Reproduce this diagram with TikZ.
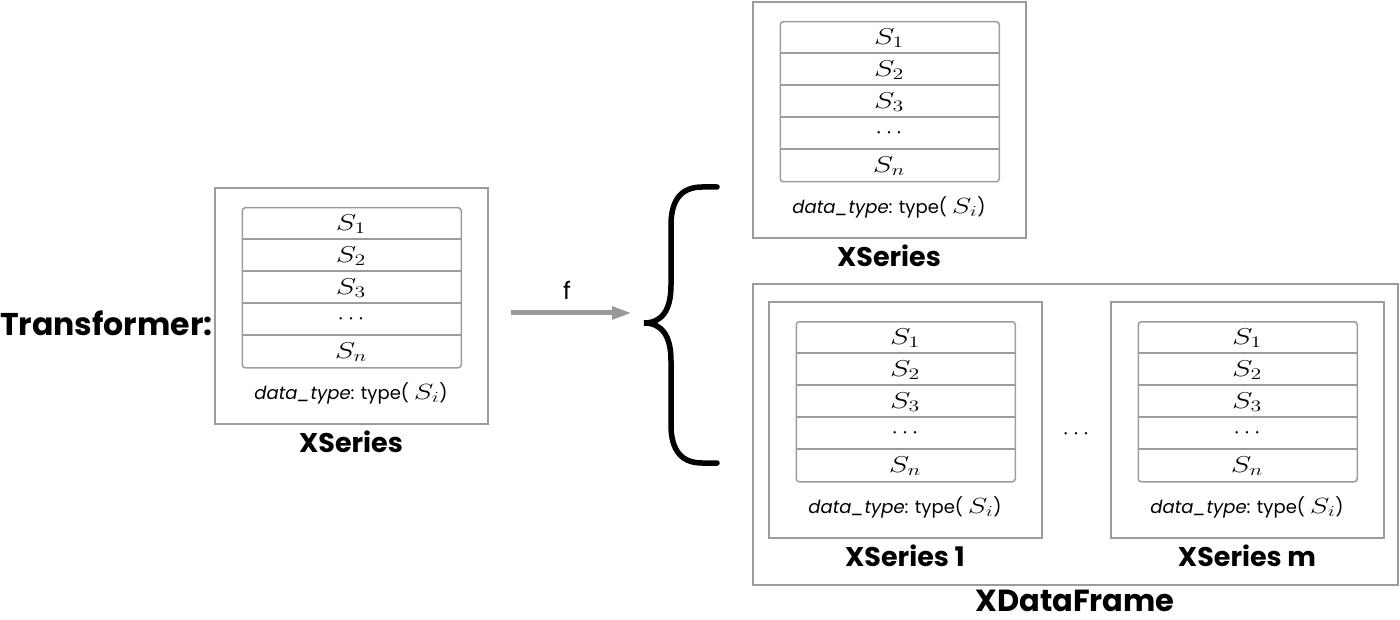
\RequirePackage{fix-cm}
\documentclass[tikz,border=0pt]{standalone}
\usepackage{graphicx}
\usepackage{fontspec}
\setsansfont{Poppins}
\usetikzlibrary{arrows.meta}
\definecolor{boxgray}{HTML}{9C9C9C}
\definecolor{arrgray}{HTML}{999999}
\newcommand{\wm}[1]{\scalebox{1.35}[1]{$#1$}}
\tikzset{
  outerbox/.style={draw=boxgray, line width=1.6pt, anchor=north west,
    minimum width=273pt, minimum height=236pt, inner sep=0pt},
  tablebox/.style={draw=boxgray, line width=1.5pt, rounded corners=3pt, anchor=north west,
    minimum width=219pt, minimum height=160pt, inner sep=0pt},
  rowline/.style={draw=boxgray, line width=1.3pt},
  celltext/.style={font=\fontsize{23}{27}\selectfont, inner sep=0pt},
  typetext/.style={font=\sffamily\fontsize{18}{22}\selectfont, inner sep=0pt},
  paneltitle/.style={font=\sffamily\bfseries\fontsize{27}{31}\selectfont, inner sep=0pt},
  bigtitle/.style={font=\sffamily\bfseries\fontsize{31.5}{36}\selectfont, inner sep=0pt},
  flowarrow/.style={draw=arrgray, line width=5pt, -{Triangle[length=20pt,width=12pt]}},
  bracestyle/.style={draw=black, line width=5.5pt, line cap=round},
}
\newcommand{\xspanel}[4]{%
  \begin{scope}[shift={(#2,#3)}]
    \node[outerbox] (#1) at (0,0) {};
    \node[tablebox] (#1-tab) at (27.5,20) {};
    \foreach \k in {1,2,3,4} {
      \draw[rowline] (27.5,{20+32*\k}) -- (246.5,{20+32*\k});
    }
    \node[celltext] (#1-r1) at (137,{20+16+1}) {\wm{S_1}};
    \node[celltext] (#1-r2) at (137,{52+16+1}) {\wm{S_2}};
    \node[celltext] (#1-r3) at (137,{84+16+1}) {\wm{S_3}};
    \node[celltext] (#1-r4) at (137,{116+16}) {$\cdots$};
    \node[celltext] (#1-r5) at (137,{148+16+1}) {\wm{S_n}};
    \node[typetext] (#1-type) at (137,206) {\textit{data\_type}: type( {\fontsize{22}{26}\selectfont\wm{S_i}})};
    \node[paneltitle] (#1-label) at (137,255) {#4};
  \end{scope}%
}
\begin{document}
\begin{tikzpicture}[x=1pt,y=-1pt]
  \useasboundingbox (0,0) rectangle (1400,620);
  % Transformer label
  \node[bigtitle, anchor=west] (trans) at (0,323) {Transformer:};
  % left XSeries
  \xspanel{left}{214}{187}{XSeries}
  % arrow f
  \coordinate (fstart) at (511,313);
  \coordinate (fend) at (632,313);
  \draw[flowarrow] (fstart) -- (fend);
  \node[font=\sffamily\fontsize{24}{28}\selectfont, inner sep=0pt] (flabel) at (567,290) {f};
  % brace
  \coordinate (btop) at (717,187);
  \coordinate (bbot) at (717,463);
  \coordinate (btip) at (644,323);
  \draw[bracestyle] (btop) -- (702,187)
     .. controls (683,187) and (671,198) .. (671,225) -- (671,285)
     .. controls (671,310) and (662,323) .. (btip)
     .. controls (662,323) and (671,336) .. (671,361) -- (671,425)
     .. controls (671,452) and (683,463) .. (702,463) -- (bbot);
  % top XSeries
  \xspanel{top}{752}{1}{XSeries}
  % XDataFrame
  \node[draw=boxgray, line width=1.6pt, anchor=north west, minimum width=645pt,
        minimum height=301pt, inner sep=0pt] (xdf) at (752,283) {};
  \node[bigtitle, font=\sffamily\bfseries\fontsize{30.5}{34}\selectfont] (xdflabel) at (1075,601) {XDataFrame};
  \xspanel{s1}{768}{301}{XSeries 1}
  \xspanel{sm}{1110}{301}{XSeries m}
  \node[celltext] (mid) at (1076,434) {$\cdots$};
\end{tikzpicture}
\end{document}
